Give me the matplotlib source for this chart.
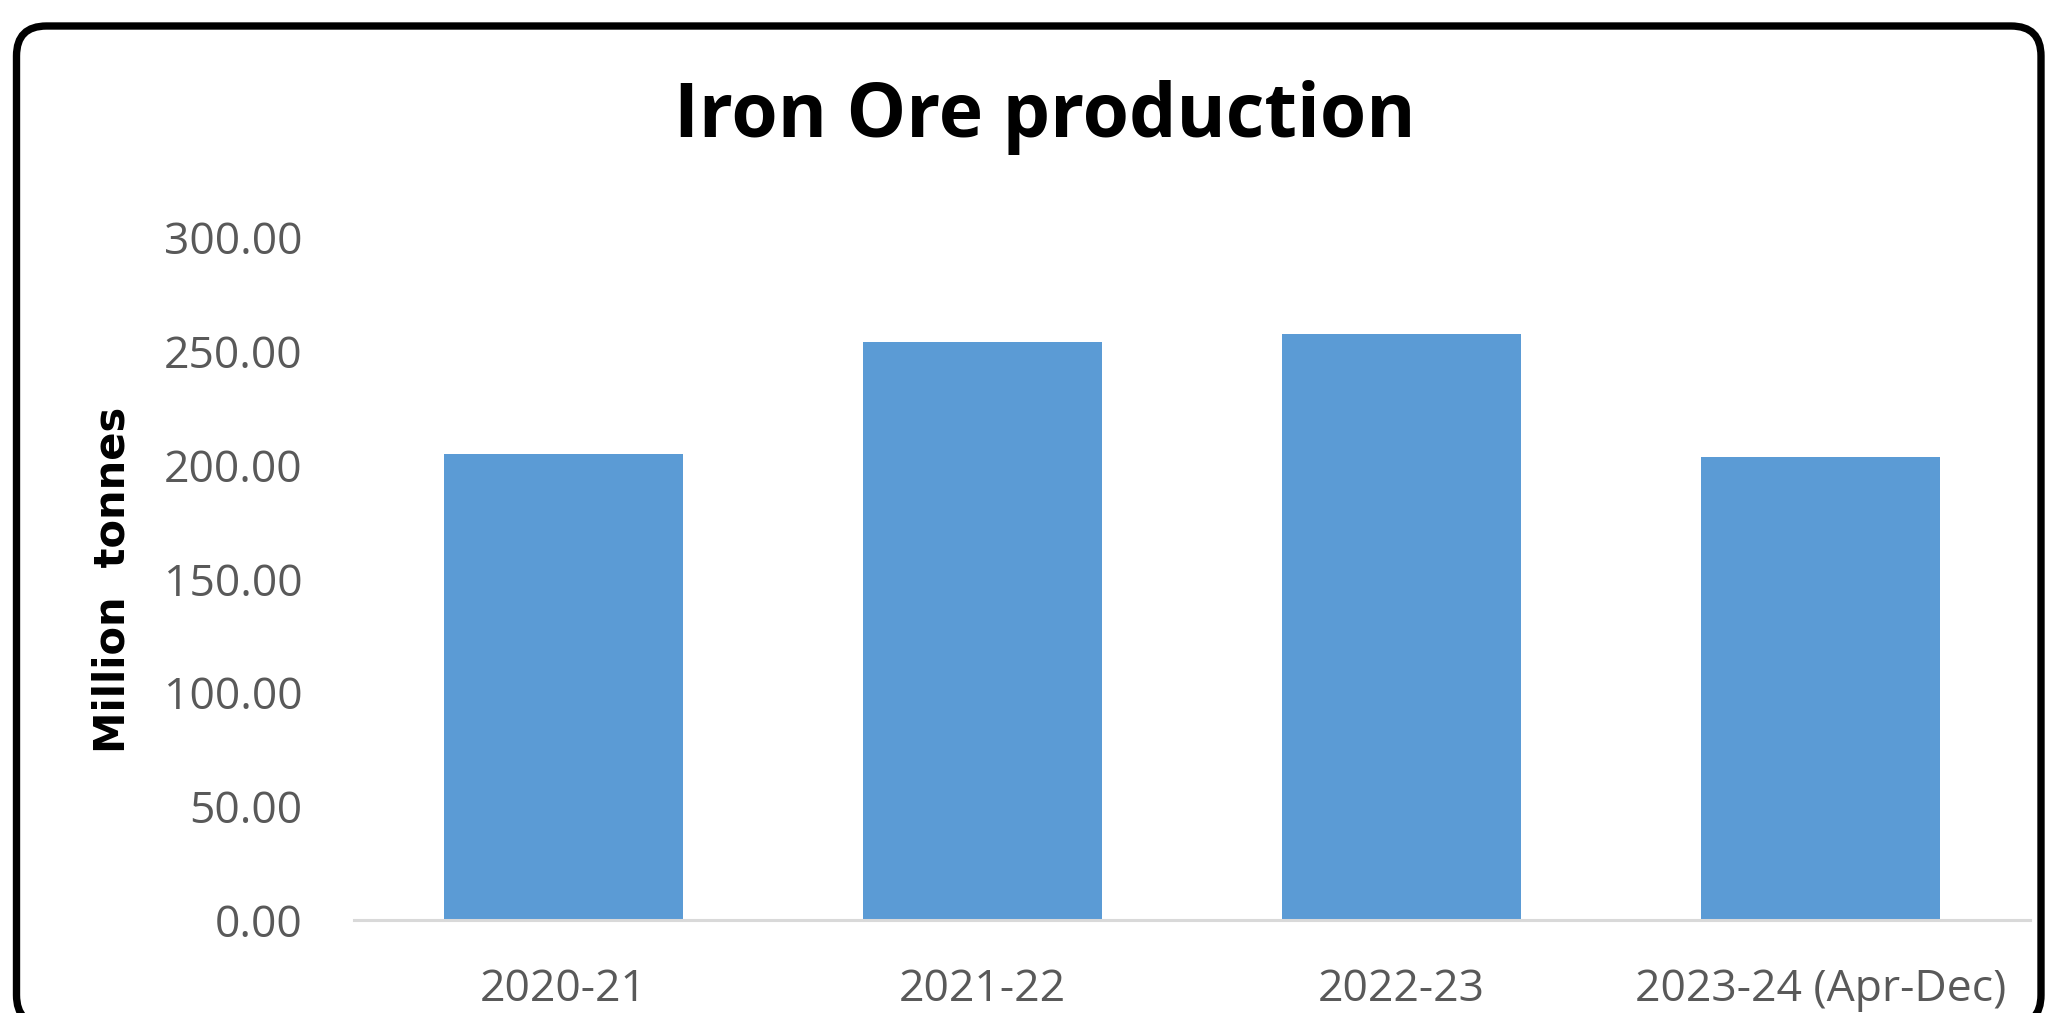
import matplotlib
matplotlib.use("Agg")
import matplotlib.pyplot as plt
from matplotlib.patches import FancyBboxPatch
from matplotlib.transforms import IdentityTransform

categories = ["2020-21", "2021-22", "2022-23", "2023-24 (Apr-Dec)"]
production = [205.0, 254.0, 257.5, 203.5]
yticks = [0, 50, 100, 150, 200, 250, 300]
ytick_labels = ["0.00", "50.00", "100.00", "150.00", "200.00", "250.00", "300.00"]

W, H = 2045, 1013
fig = plt.figure(figsize=(W / 100, H / 100), dpi=100)
fig.patch.set_facecolor("white")

ax = fig.add_axes([354 / W, (H - 920) / H, (2030 - 354) / W, 682.5 / H])
x = list(range(len(categories)))
ax.bar(x, production, width=0.57, color="#5B9BD5", zorder=2)
ax.set_xlim(-0.5, len(categories) - 0.5)
ax.set_ylim(0, 300)
ax.set_yticks(yticks)
ax.set_yticklabels(ytick_labels)
ax.set_xticks(x)
ax.set_xticklabels(categories)

for s in ["top", "right", "left"]:
    ax.spines[s].set_visible(False)
ax.spines["bottom"].set_color("#D9D9D9")
ax.spines["bottom"].set_linewidth(2.2)
ax.tick_params(axis="both", length=0, labelcolor="#595959")
ax.tick_params(axis="y", pad=37, labelsize=32)
ax.tick_params(axis="x", pad=34, labelsize=32)
for lab in ax.get_xticklabels() + ax.get_yticklabels():
    lab.set_fontfamily(["Open Sans", "DejaVu Sans"])

fig.text(1045 / W, 1 - 137 / H, "Iron Ore production", ha="center", va="baseline",
         fontsize=54, fontweight="bold", family=["Open Sans", "DejaVu Sans"], color="black")
fig.text(113 / W, 1 - 580 / H, "Million  tonnes", ha="center", va="center", rotation=90,
         fontsize=30, fontweight="bold", family=["DejaVu Sans"], color="black")

border = FancyBboxPatch((16.5, -12), 2041 - 16.5, (H - 26) + 12,
                        boxstyle="round,pad=0,rounding_size=30",
                        transform=IdentityTransform(), facecolor="none",
                        edgecolor="black", linewidth=5.3)
fig.patches.append(border)

fig.savefig("out.png", dpi=100, facecolor="white")
